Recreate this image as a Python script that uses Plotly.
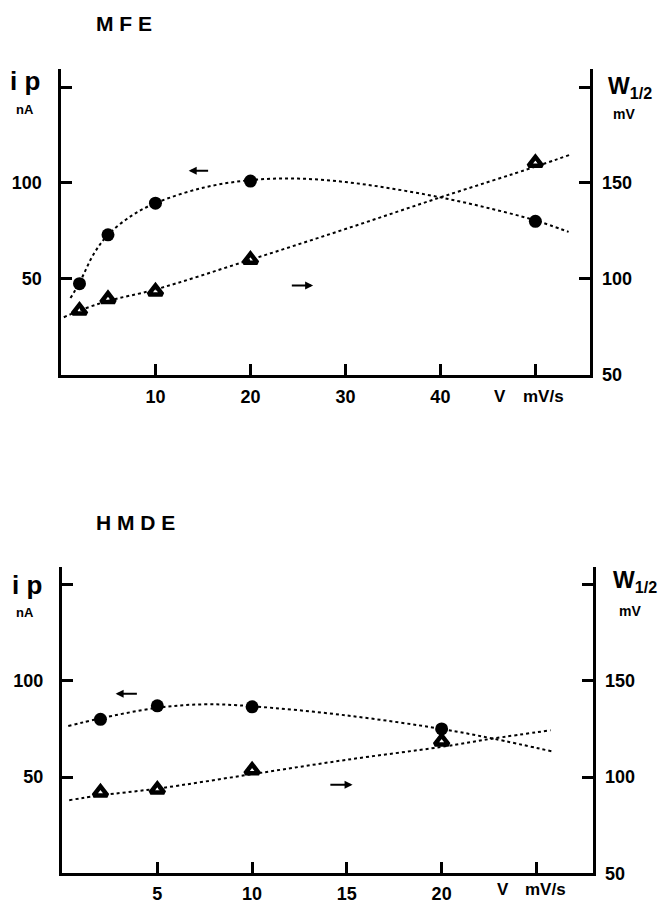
import plotly.graph_objects as go

W, H = 664, 910

# ---------------- data ----------------
# MFE panel
mfe_v = [2, 5, 10, 20, 50]
mfe_ip = [47.5, 73, 89.5, 101, 80]
mfe_w = [83.5, 89.5, 93.5, 110, 160.5]
mfe_ip_fit_v = [1.05, 2, 3.5, 5, 7.5, 10, 15, 20, 25, 30, 35, 40, 45, 50, 53.5]
mfe_ip_fit = [40, 48, 63, 73, 83, 89.5, 97.5, 101.5, 102.3, 100.5, 97, 92.5, 87, 80.5, 74.5]
mfe_w_fit_v = [0.35, 2, 5, 10, 20, 30, 40, 50, 53.7]
mfe_w_fit = [80, 83.5, 88.5, 94.5, 110, 126, 142.5, 158.5, 164.8]

# HMDE panel
hmde_v = [2, 5, 10, 20]
hmde_ip = [80, 87, 86.5, 75]
hmde_w = [92, 93.5, 103.5, 118.5]
hmde_ip_fit_v = [0.3, 2, 5, 7.5, 10, 15, 20, 22.7, 25.9]
hmde_ip_fit = [76.5, 80.5, 86, 87.8, 86.8, 82, 75, 70, 63.2]
hmde_w_fit_v = [0.35, 2, 5, 10, 15, 20, 22.7, 25.75]
hmde_w_fit = [88, 90.5, 94, 101.5, 109, 115.7, 120, 124.3]

# tick labels
mfe_xticks = [10, 20, 30, 40, 50]
mfe_xlabels = ["10", "20", "30", "40", ""]
hmde_xticks = [5, 10, 15, 20, 25]
hmde_xlabels = ["5", "10", "15", "20", ""]
left_ticks = [50, 100, 150]
left_labels = ["50", "100", ""]
right_ticks = [50, 100, 150, 200]
right_labels = ["50", "100", "150", ""]

FONT = "Liberation Sans"
BLACK = "#000000"


def px(x):
    return x / W


def py(y):
    return 1 - y / H


fig = go.Figure()


def add_panel(xa, ya, ya2, v, ip, w, fv, fip, wv, fw):
    fig.add_trace(go.Scatter(x=fv, y=fip, mode="lines", xaxis=xa, yaxis=ya,
                             line=dict(color=BLACK, width=2, dash="3px,3px", shape="spline"),
                             showlegend=False, hoverinfo="skip"))
    fig.add_trace(go.Scatter(x=wv, y=fw, mode="lines", xaxis=xa, yaxis=ya2,
                             line=dict(color=BLACK, width=2, dash="3px,3px", shape="spline"),
                             showlegend=False, hoverinfo="skip"))
    fig.add_trace(go.Scatter(x=v, y=ip, mode="markers", xaxis=xa, yaxis=ya,
                             marker=dict(symbol="circle", size=13, color=BLACK),
                             showlegend=False))
    fig.add_trace(go.Scatter(x=v, y=w, mode="markers", xaxis=xa, yaxis=ya2,
                             marker=dict(symbol="triangle-up-open", size=12, color=BLACK,
                                         line=dict(width=4.5, color=BLACK)),
                             showlegend=False))


add_panel("x", "y", "y2", mfe_v, mfe_ip, mfe_w, mfe_ip_fit_v, mfe_ip_fit, mfe_w_fit_v, mfe_w_fit)
add_panel("x2", "y3", "y4", hmde_v, hmde_ip, hmde_w, hmde_ip_fit_v, hmde_ip_fit, hmde_w_fit_v, hmde_w_fit)

tickfont = dict(family=FONT, size=18, color=BLACK, weight="bold")
axcommon = dict(showline=True, linecolor=BLACK, linewidth=3, ticks="inside", ticklen=11,
                tickwidth=2.5, tickcolor=BLACK, showgrid=False, zeroline=False,
                tickfont=tickfont, fixedrange=True)

# plot-area boxes (axis lines sit 1.5 px outside these)
top_dom = [py(379), py(70)]
bot_dom = [py(883), py(573)]

fig.update_layout(
    width=W, height=H, margin=dict(l=0, r=0, t=0, b=0),
    paper_bgcolor="white", plot_bgcolor="white",
    xaxis=dict(domain=[px(60.5), px(589.5)], range=[0, 55.7], anchor="y",
               tickvals=mfe_xticks, ticktext=mfe_xlabels, ticklabelstandoff=4, **axcommon),
    yaxis=dict(domain=top_dom, range=[0, 159.3], anchor="x",
               tickvals=left_ticks, ticktext=left_labels, ticklabelstandoff=12, **axcommon),
    yaxis2=dict(range=[50, 209.3], overlaying="y", side="right", anchor="x",
                tickvals=right_ticks, ticktext=right_labels, ticklabelstandoff=6, **axcommon),
    xaxis2=dict(domain=[px(62), px(592.5)], range=[-0.03, 27.96], anchor="y3",
                tickvals=hmde_xticks, ticktext=hmde_xlabels, ticklabelstandoff=2, **axcommon),
    yaxis3=dict(domain=bot_dom, range=[0, 159.3], anchor="x2",
                tickvals=left_ticks, ticktext=left_labels, ticklabelstandoff=12, **axcommon),
    yaxis4=dict(range=[50, 209.3], overlaying="y3", side="right", anchor="x2",
                tickvals=right_ticks, ticktext=right_labels, ticklabelstandoff=6, **axcommon),
)

ann = []


def text(x, y, t, size, xanchor="center", yanchor="middle"):
    ann.append(dict(x=px(x), y=py(y), xref="paper", yref="paper", text=t, showarrow=False,
                    xanchor=xanchor, yanchor=yanchor,
                    font=dict(family=FONT, size=size, color=BLACK, weight="bold")))


# titles
text(94, 24, "M F E", 21, xanchor="left")
text(94, 528, "H M D E", 21, xanchor="left")
# left axis labels
text(25, 82, "i p", 26)
text(25, 111, "nA", 13)
text(27, 592, "i p", 26)
text(25, 619, "nA", 13)
# right axis labels
text(606, 88, "W<sub>1/2</sub>", 23, xanchor="left")
text(624, 115, "mV", 14)
text(611, 588, "W<sub>1/2</sub>", 23, xanchor="left")
text(630, 618, "mV", 14)
# x axis unit labels
text(492, 401, "V", 17, xanchor="left")
text(521, 401, "mV/s", 17, xanchor="left")
text(495, 899, "V", 17, xanchor="left")
text(523, 899, "mV/s", 17, xanchor="left")


def arrow(xa, ya, x_head, y_head, x_tail, y_tail):
    ann.append(dict(x=x_head, y=y_head, ax=x_tail, ay=y_tail, xref=xa, yref=ya,
                    axref=xa, ayref=ya, showarrow=True, arrowhead=2, arrowsize=0.8,
                    arrowwidth=2, arrowcolor=BLACK, text=""))


arrow("x", "y", 13.5, 106.4, 15.7, 106.4)
arrow("x", "y", 26.6, 46.6, 24.2, 46.6)
arrow("x2", "y3", 2.8, 93.3, 4.0, 93.3)
arrow("x2", "y3", 15.3, 46.0, 14.05, 46.0)

fig.update_layout(annotations=ann)

fig.write_html("out.html", config={"displayModeBar": False},
               post_script="document.body.style.margin='0';document.body.style.overflow='hidden';")
